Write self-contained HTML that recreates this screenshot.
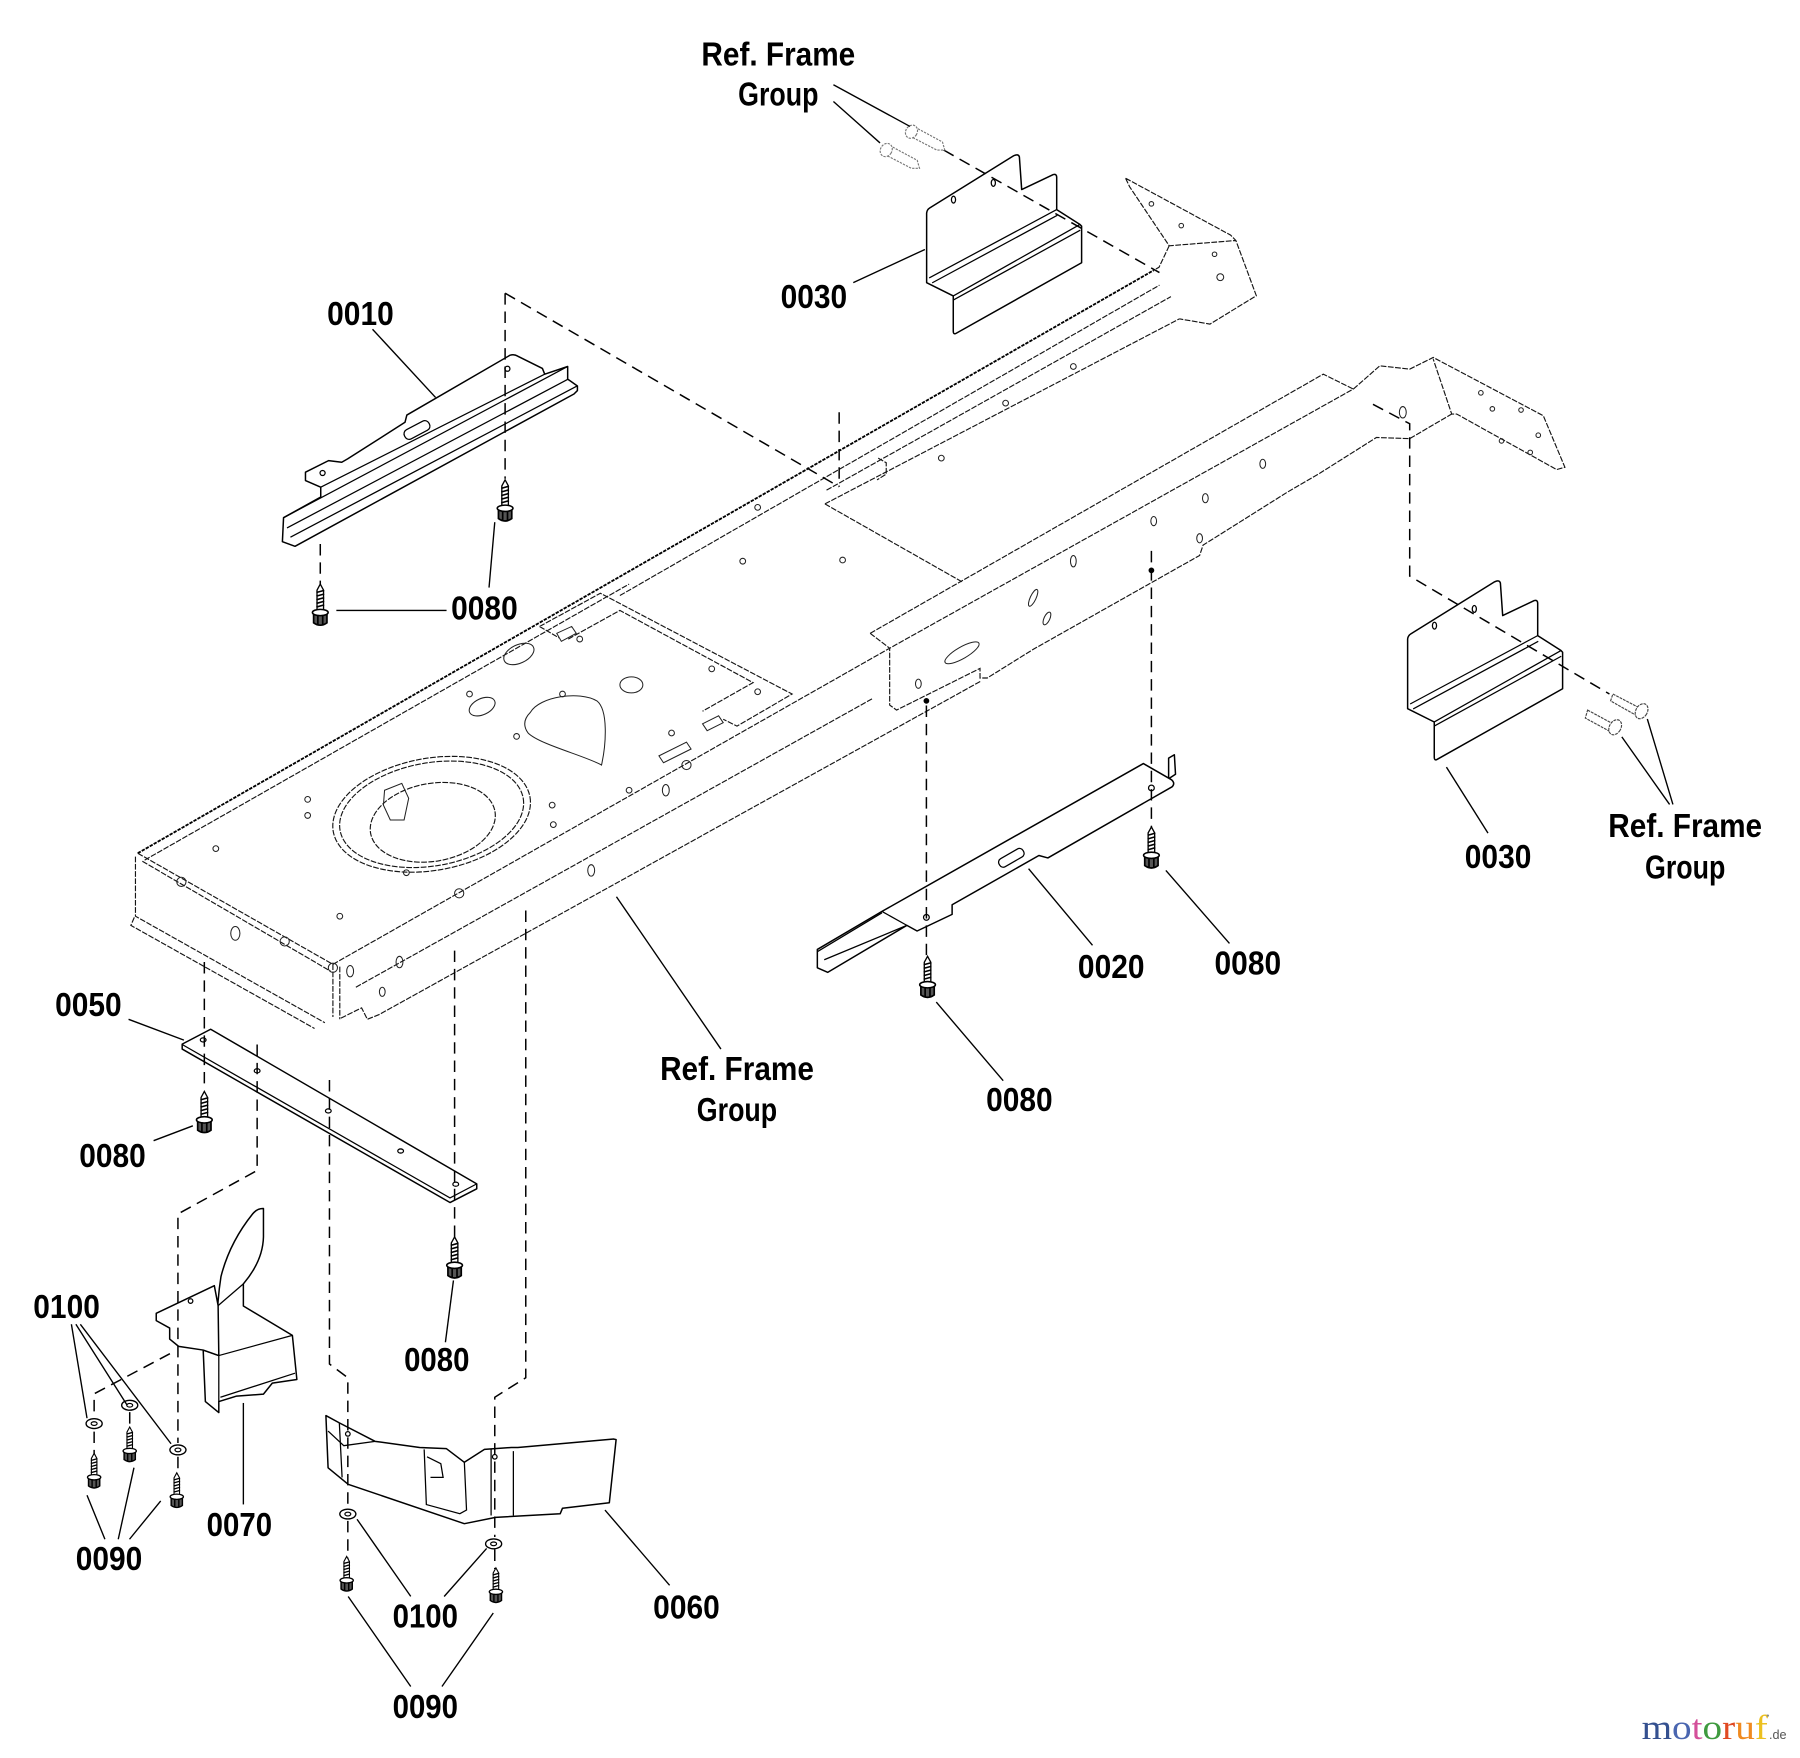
<!DOCTYPE html>
<html><head><meta charset="utf-8">
<style>
html,body{margin:0;padding:0;background:#fff;}
svg{display:block;}
.lbl{font-family:"Liberation Sans Narrow","Liberation Sans",sans-serif;font-weight:bold;font-size:29.5px;fill:#000;}
.fr{fill:none;stroke:#151515;stroke-width:1;stroke-dasharray:5 1.3;}
.frh{fill:none;stroke:#000;stroke-width:1.6;stroke-dasharray:3 1;}
.pt{fill:#fff;stroke:#000;stroke-width:1.3;stroke-linejoin:round;}
.pl{fill:none;stroke:#000;stroke-width:1.1;}
.ld{fill:none;stroke:#000;stroke-width:1.2;}
.ds{fill:none;stroke:#000;stroke-width:1.3;stroke-dasharray:10 6;}
.hl{fill:none;stroke:#222;stroke-width:0.9;}
</style></head><body>
<svg width="1800" height="1758" viewBox="0 0 1568 1535" preserveAspectRatio="none" xmlns="http://www.w3.org/2000/svg">
<defs>
<symbol id="scr" viewBox="0 0 14 36" overflow="visible">
<path d="M7,0 L4.3,5 L4.3,22 L9.7,22 L9.7,5 Z" fill="#fff" stroke="#000" stroke-width="1.1"/>
<path d="M3.8,7 L10.2,5.2 M3.8,10 L10.2,8.2 M3.8,13 L10.2,11.2 M3.8,16 L10.2,14.2 M3.8,19 L10.2,17.2" stroke="#000" stroke-width="1.3"/>
<path d="M1.5,23.5 L1.5,32 Q7,36 12.5,32 L12.5,23.5 Z" fill="#555" stroke="#000" stroke-width="1.4"/>
<ellipse cx="7" cy="23.5" rx="6.5" ry="2.6" fill="#fff" stroke="#000" stroke-width="1.3"/>
<path d="M5,25.5 L5,34 M9,25.5 L9,34" stroke="#000" stroke-width="1.4"/>
</symbol>
<symbol id="wsh" viewBox="0 0 16 10" overflow="visible">
<ellipse cx="8" cy="5" rx="7" ry="4.3" fill="#fff" stroke="#000" stroke-width="1.2"/>
<ellipse cx="8" cy="5" rx="2.6" ry="1.6" fill="#fff" stroke="#000" stroke-width="1"/>
</symbol>
<g id="b30">
<path class="pt" d="M807.2,246.8 L807.2,186 Q807.5,183 810,181.5 L883,136 Q887,134 888,137 L890,165.5 L917.5,152.4 Q920.5,151.5 920.5,155 L920.5,183 L940.8,196 L942.2,197.5 L942.2,229.4 L833,291 Q830.4,292.5 830.4,289 L830.4,258.4 Z"/>
<path class="pl" d="M809.4,242.7 L920.5,183 M812,247 L921,188 M830.4,258.4 L940.8,196 M830.4,262 L941,201"/>
<ellipse cx="830.6" cy="174.3" rx="1.8" ry="3" class="pl"/>
<ellipse cx="865.3" cy="159.7" rx="1.8" ry="3" class="pl"/>
</g>
</defs>
<rect x="0" y="0" width="1568" height="1535" fill="#fff"/>

<!-- ===== FRAME ===== -->
<g>
<path class="frh" d="M120,745 L1005,236"/>
<path class="fr" d="M126,751 L548,510 M540,520 L1010,249 M720,428 L1020,259"/>
<path class="fr" d="M120,745 L290,842 M124,752 L288,848"/>
<path class="fr" d="M118,748 L118,800 L283,893 M117,801 L114,808 L274,898 M290,842 L290,888 M296,844 L296,890"/>
<path class="fr" d="M290,842 L775,566 L1178.9,339.7"/>
<path class="fr" d="M297,889 L315,880 L320,890 L330,886 L854,595 M310,862 L760,610"/>
<path class="fr" d="M758,553 L1152.7,326.7 L1178.9,339.7 M758,553 L775,566 L775,615.6 L781,620 L853.7,583.6 L853.7,592 L860,592 L900,567 L1045,485 L1048,476 L1121,430 L1150,413 L1199,382 L1228,383 L1264.6,361.5"/>
<path class="fr" d="M1178.9,339.7 L1202,319.4 L1228,322.3 L1248.5,312.1 L1344.4,363 L1363.2,408 L1356,410 L1268.9,361.5 L1264.6,361.5 L1248.5,313.6"/>
<path class="fr" d="M718.6,440 L1027.4,278.4 M718.6,440 L838,508 M765,400 L772,404 L772,414 L764,419"/>
<path class="fr" d="M980.5,155.6 L1072,205.3 L1076.6,210 L1094.4,258.2 L1054,283 L1027.4,278.4 M980.5,155.6 L984,163 L1018.5,214.6 L1076.6,210 M1018.5,214.6 L1009.6,233.4 L1005,236"/>
<!-- pan top features -->
<ellipse class="fr" cx="376" cy="711" rx="87" ry="49" transform="rotate(-10 376 711)"/>
<ellipse class="fr" cx="376" cy="711" rx="81" ry="45" transform="rotate(-10 376 711)"/>
<ellipse class="fr" cx="377" cy="718" rx="55" ry="34" transform="rotate(-10 377 718)"/>
<path class="hl" d="M335,690 L350,684 L356,697 L352,716 L340,716 L334,703 Z"/>
<path class="hl" d="M462,622 C470,608 505,603 520,612 C530,620 528,650 524,668 C510,660 470,650 460,640 C455,633 457,627 462,622 Z"/>
<path class="fr" d="M470,547 L523,518 L690,606 L642,634 L630,628 M470,547 L487,557 M495,558 L540,533 L656,596 L612,621"/>
<ellipse class="hl" cx="452" cy="571" rx="14" ry="8" transform="rotate(-25 452 571)"/>
<ellipse class="hl" cx="420" cy="617" rx="12" ry="7" transform="rotate(-25 420 617)"/>
<ellipse class="hl" cx="550" cy="598" rx="10" ry="7"/>
<path class="hl" d="M485,553 L498,547 L502,553 L489,560 Z M612,632 L626,625 L630,631 L616,638 Z M574,660 L598,648 L602,654 L578,666 Z"/>
<g class="hl">
<circle cx="268" cy="698" r="2.5"/><circle cx="268" cy="712" r="2.5"/><circle cx="188" cy="741" r="2.5"/><circle cx="354" cy="762" r="2.5"/><circle cx="296" cy="800" r="2.5"/><circle cx="481" cy="703" r="2.5"/><circle cx="482" cy="720" r="2.5"/><circle cx="548" cy="690" r="2.5"/><circle cx="490" cy="606" r="2.5"/><circle cx="409" cy="606" r="2.5"/><circle cx="450" cy="643" r="2.5"/><circle cx="660" cy="604" r="2.5"/><circle cx="647" cy="490" r="2.5"/><circle cx="734" cy="489" r="2.5"/><circle cx="660" cy="443" r="2.5"/><circle cx="620" cy="584" r="2.5"/><circle cx="585" cy="640" r="2.5"/><circle cx="505" cy="558" r="2.5"/><circle cx="820" cy="400" r="2.5"/><circle cx="876" cy="352" r="2.5"/><circle cx="935" cy="320" r="2.5"/>
<ellipse cx="205" cy="815" rx="4" ry="6"/><ellipse cx="305" cy="848" rx="3" ry="5"/><ellipse cx="348" cy="840" rx="3" ry="5"/><ellipse cx="333" cy="866" rx="2.5" ry="4"/><ellipse cx="515" cy="760" rx="3" ry="5"/><ellipse cx="580" cy="690" rx="3" ry="5"/>
<circle cx="158" cy="770" r="4"/><circle cx="248" cy="822" r="4"/><circle cx="400" cy="780" r="4"/><circle cx="598" cy="668" r="4"/><circle cx="290" cy="845" r="4"/>
<ellipse cx="838" cy="570" rx="17" ry="5" transform="rotate(-30 838 570)"/>
<ellipse cx="900" cy="522" rx="2.5" ry="8" transform="rotate(25 900 522)"/>
<ellipse cx="912" cy="540" rx="2.5" ry="6" transform="rotate(25 912 540)"/>
<ellipse cx="935" cy="490" rx="2.5" ry="5"/><ellipse cx="800" cy="597" rx="2.5" ry="4"/><ellipse cx="1005" cy="455" rx="2.5" ry="4"/><ellipse cx="1050" cy="435" rx="2.5" ry="4"/><ellipse cx="1100" cy="405" rx="2.5" ry="4"/><ellipse cx="1045" cy="470" rx="2.5" ry="4"/><ellipse cx="1222" cy="360" rx="3" ry="5"/>
<circle cx="1290" cy="343" r="2"/><circle cx="1300" cy="357" r="2"/><circle cx="1325" cy="358" r="2"/><circle cx="1340" cy="380" r="2"/><circle cx="1333" cy="395" r="2"/><circle cx="1308" cy="385" r="2"/>
<circle cx="1003" cy="178" r="2"/><circle cx="1029" cy="197" r="2"/><circle cx="1058" cy="222" r="2"/><circle cx="1063" cy="242" r="3"/>
</g>
<circle cx="807" cy="612" r="2.5" fill="#000"/><circle cx="1003" cy="498" r="2.5" fill="#000"/>
</g>

<!-- ===== PARTS ===== -->
<use href="#b30"/>
<use href="#b30" transform="translate(419,372)"/>

<!-- 0010 -->
<path class="pt" d="M279.4,425.4 L266.1,419.6 L266.1,412.3 L286.2,402.2 L297.7,403.6 L302.8,400.7 L352.8,368.7 L354.4,362.4 L444.4,310.1 Q448,309 451,311 L472.5,321.7 L474.5,326.7 L494.5,320 L494.5,331 L503,337 L503,341 L500,344 L257,477 L246,473 L247,452 L279.4,434 Z"/>
<path class="pl" d="M279.4,425.4 L474.5,326.7 M494.5,320 L247,452 M495,331 L250,461 M502.8,337 L253,469"/>
<rect x="351" y="371" width="24" height="9" rx="4" class="pl" transform="rotate(-28 363 375)"/>
<circle cx="442" cy="322" r="2.2" class="pl"/><circle cx="281" cy="413" r="2.2" class="pl"/>

<!-- 0020 -->
<path class="pt" d="M1018,680 L1018,662 L1023,659 L1024,676 Z"/>
<path class="pt" d="M768.3,795.8 L996,666.7 L1020.6,680.9 Q1024,684 1021,687 L912.8,749.1 L905,747 L829.4,790 L829.4,798.4 L798.9,812.9 L790,808 L721,849 L712,845 L712,829 Z"/>
<path class="pl" d="M712,831 L768.3,797 M718,838 L790,808 M768.3,795.8 L790,808"/>
<rect x="869" y="745" width="24" height="8" rx="3.5" class="pl" transform="rotate(-30 881 749)"/>
<circle cx="1003" cy="688" r="2.5" class="pl"/><circle cx="807" cy="801" r="2.5" class="pl"/>

<!-- 0050 -->
<path class="pt" d="M158.7,911.7 L183.5,898.7 L415.3,1033.7 L415.3,1038 L392,1050 L158.7,916 Z"/>
<path class="pl" d="M158.7,912 L392,1046 L415.3,1033.7"/>
<g class="pl"><ellipse cx="177" cy="908" rx="2.5" ry="1.8"/><ellipse cx="224" cy="935" rx="2.5" ry="1.8"/><ellipse cx="286" cy="970" rx="2.5" ry="1.8"/><ellipse cx="349" cy="1005" rx="2.5" ry="1.8"/><ellipse cx="397" cy="1034" rx="2.5" ry="1.8"/></g>

<!-- 0070 -->
<path class="pt" d="M177,1178.8 L178.9,1223.8 L190.6,1233.4 L190.6,1223.8 L206.1,1219 L229.5,1217.3 L237.2,1207.7 L258.6,1204.5 L254.7,1166 L212,1140.3 L212,1121 Q229,1101 229.5,1080 L229.5,1055.2 Q224,1055 220,1060 Q200,1085 192.5,1114.6 Q187,1150 190.6,1183.6 Z"/>
<path class="pt" d="M186.7,1122.6 L136.1,1146.7 L136.1,1153.1 L147.8,1159.6 L147.8,1169.2 L155.6,1175.6 L177,1178.8 L190.6,1183.6 L190,1140 Z"/>
<path class="pl" d="M190.6,1183.6 L190.6,1223.8 M190.6,1183.6 L254.7,1166 M192,1220 L257,1199 M212,1121 L190,1140"/>
<circle cx="166" cy="1136" r="2" class="pl"/>

<!-- 0060 -->
<path class="pt" d="M283.9,1236 L295.6,1242.4 L326.7,1258.5 L365.6,1263.9 L388.9,1264.9 L404.5,1276.8 L422,1265.5 L445.3,1263.9 L451.1,1263.9 L534.7,1256.5 L536.7,1257 L530.8,1312.1 L490,1316.9 L488,1321.7 L431.7,1324.9 L404.5,1330.4 L303.3,1296 L285.8,1281.6 Z"/>
<path class="pl" d="M369.5,1265.5 L371.4,1313.7 L400.6,1321.7 L406.4,1318.5 L404.5,1276.8 M447.2,1267 L447.2,1323.3 M427.8,1265.5 L427.8,1323.3 M295.6,1242.4 L298,1290 M285.8,1249.5 L299.5,1262.3 L326.7,1258.5 M372,1272 L384,1278 L386,1290 L375,1290"/>
<circle cx="303" cy="1252" r="2" class="pl"/><circle cx="431" cy="1272" r="2" class="pl"/>

<!-- ===== DASHED ASSEMBLY LINES ===== -->
<path class="ds" d="M440,256 L440,418 M440,256 L731,425 M731,360 L731,425"/>
<path class="ds" d="M279,475 L279,514"/>
<path class="ds" d="M822,131 L1010,238"/>
<path class="ds" d="M1196,353 L1228,370 L1228,503 L1402,606"/>
<path class="ds" d="M807,616 L807,838"/>
<path class="ds" d="M1003,481 L1003,726"/>
<path class="ds" d="M178,840 L178,952"/>
<path class="ds" d="M224,912 L224,1022 L155,1060 L155,1260"/>
<path class="ds" d="M148,1182 L82,1217 L82,1238"/>
<path class="ds" d="M82,1250 L82,1272 M113,1233 L113,1248 M155,1272 L155,1287 M303,1328 L303,1362 M431,1353 L431,1370"/>
<path class="ds" d="M287,943 L287,1191 L303,1203 L303,1316"/>
<path class="ds" d="M396,830 L396,1080"/>
<path class="ds" d="M458,795 L458,1203 L431,1220 L431,1342"/>

<!-- ===== FASTENERS ===== -->
<use href="#scr" x="432" y="419" width="16" height="38"/>
<use href="#scr" x="271" y="510" width="16" height="38"/>
<use href="#scr" x="170" y="953" width="16" height="38"/>
<use href="#scr" x="388" y="1080" width="16" height="38"/>
<use href="#scr" x="800" y="835" width="16" height="38"/>
<use href="#scr" x="995" y="722" width="16" height="38"/>
<use href="#scr" x="75" y="1269" width="14" height="32"/>
<use href="#scr" x="106" y="1246" width="14" height="32"/>
<use href="#scr" x="147" y="1286" width="14" height="32"/>
<use href="#scr" x="295" y="1359" width="14" height="32"/>
<use href="#scr" x="425" y="1369" width="14" height="32"/>
<use href="#wsh" x="74" y="1238" width="16" height="10"/>
<use href="#wsh" x="105" y="1222" width="16" height="10"/>
<use href="#wsh" x="147" y="1261" width="16" height="10"/>
<use href="#wsh" x="295" y="1317" width="16" height="10"/>
<use href="#wsh" x="422" y="1343" width="16" height="10"/>

<!-- ref frame screws (gray) -->
<g fill="#fff" stroke="#777" stroke-width="1" stroke-dasharray="2 1">
<path d="M797,111 L821,124 L823,131 L816,131 L793,119 Z"/>
<ellipse cx="794" cy="115" rx="5" ry="6" transform="rotate(30 794 115)"/>
<path d="M775,127 L799,140 L801,147 L794,147 L771,135 Z"/>
<ellipse cx="772" cy="131" rx="5" ry="6" transform="rotate(30 772 131)"/>
</g>
<g fill="#fff" stroke="#444" stroke-width="1" stroke-dasharray="2.5 0.8">
<path d="M1405,606 L1428,618 L1426,625 L1403,612 Z"/>
<ellipse cx="1430" cy="621" rx="5" ry="7" transform="rotate(30 1430 621)"/>
<path d="M1383,620 L1405,632 L1403,639 L1381,627 Z"/>
<ellipse cx="1407" cy="635" rx="5" ry="7" transform="rotate(30 1407 635)"/>
</g>

<!-- ===== LEADER LINES ===== -->
<path class="ld" d="M726,74 L792.7,110.4 M726,88.6 L766.6,124.8"/>
<path class="ld" d="M743.3,246.8 L805.7,217.8"/>
<path class="ld" d="M324.5,287.5 L379.4,347"/>
<path class="ld" d="M426,513 L431,456 M293,533 L389,533"/>
<path class="ld" d="M1296.2,727.4 L1260,669.8"/>
<path class="ld" d="M1457.3,702.4 L1435,627.8 M1454.4,702.4 L1412.8,643.4"/>
<path class="ld" d="M951.7,825.4 L896,758.5"/>
<path class="ld" d="M1071,823.8 L1015.6,760"/>
<path class="ld" d="M873.9,943.6 L815.6,875"/>
<path class="ld" d="M628,916 L537,783"/>
<path class="ld" d="M112,890 L160.2,908.2"/>
<path class="ld" d="M133.8,996 L168,983"/>
<path class="ld" d="M388,1172 L395,1118"/>
<path class="ld" d="M62.2,1156.3 L75.8,1238.3 M66.1,1156.3 L110.8,1227 M70,1156.3 L149,1260.6"/>
<path class="ld" d="M75.8,1305.6 L91.4,1344 M116.7,1281.5 L103,1344 M140,1310.5 L112.8,1344"/>
<path class="ld" d="M212,1225 L212,1313.6"/>
<path class="ld" d="M311,1326.5 L357.8,1393.9 M423.9,1352 L386.9,1394"/>
<path class="ld" d="M303.3,1394 L357.8,1472.6 M429.7,1408.4 L385,1472.6"/>
<path class="ld" d="M527,1318.5 L583.3,1384.2"/>

<!-- ===== LABELS ===== -->
<g class="lbl">
<text x="611" y="57" textLength="134" lengthAdjust="spacingAndGlyphs">Ref. Frame</text>
<text x="643" y="92" textLength="70" lengthAdjust="spacingAndGlyphs">Group</text>
<text x="680" y="269" textLength="58" lengthAdjust="spacingAndGlyphs">0030</text>
<text x="285" y="284" textLength="58" lengthAdjust="spacingAndGlyphs">0010</text>
<text x="393" y="541" textLength="58" lengthAdjust="spacingAndGlyphs">0080</text>
<text x="1276" y="758" textLength="58" lengthAdjust="spacingAndGlyphs">0030</text>
<text x="1401" y="731" textLength="134" lengthAdjust="spacingAndGlyphs">Ref. Frame</text>
<text x="1433" y="767" textLength="70" lengthAdjust="spacingAndGlyphs">Group</text>
<text x="939" y="854" textLength="58" lengthAdjust="spacingAndGlyphs">0020</text>
<text x="1058" y="851" textLength="58" lengthAdjust="spacingAndGlyphs">0080</text>
<text x="859" y="970" textLength="58" lengthAdjust="spacingAndGlyphs">0080</text>
<text x="575" y="943" textLength="134" lengthAdjust="spacingAndGlyphs">Ref. Frame</text>
<text x="607" y="979" textLength="70" lengthAdjust="spacingAndGlyphs">Group</text>
<text x="48" y="887" textLength="58" lengthAdjust="spacingAndGlyphs">0050</text>
<text x="69" y="1019" textLength="58" lengthAdjust="spacingAndGlyphs">0080</text>
<text x="352" y="1197" textLength="57" lengthAdjust="spacingAndGlyphs">0080</text>
<text x="29" y="1151" textLength="58" lengthAdjust="spacingAndGlyphs">0100</text>
<text x="180" y="1341" textLength="57" lengthAdjust="spacingAndGlyphs">0070</text>
<text x="66" y="1371" textLength="58" lengthAdjust="spacingAndGlyphs">0090</text>
<text x="342" y="1421" textLength="57" lengthAdjust="spacingAndGlyphs">0100</text>
<text x="569" y="1413" textLength="58" lengthAdjust="spacingAndGlyphs">0060</text>
<text x="342" y="1500" textLength="57" lengthAdjust="spacingAndGlyphs">0090</text>
</g>

<!-- motoruf logo -->
<text x="1430" y="1518.6" textLength="110" lengthAdjust="spacingAndGlyphs" style="font-family:'Liberation Serif',serif;font-size:30px;"><tspan fill="#34508f">m</tspan><tspan fill="#4a66b0">o</tspan><tspan fill="#d4509a">t</tspan><tspan fill="#3f9a3f">o</tspan><tspan fill="#e04a22">r</tspan><tspan fill="#f08a20">u</tspan><tspan fill="#ecc020">f</tspan></text>
<text x="1541" y="1518.6" style="font-family:'Liberation Sans',sans-serif;font-size:11px;fill:#555;">.de</text>
<circle cx="1540" cy="1498" r="1" fill="#888"/>
</svg>
</body></html>
